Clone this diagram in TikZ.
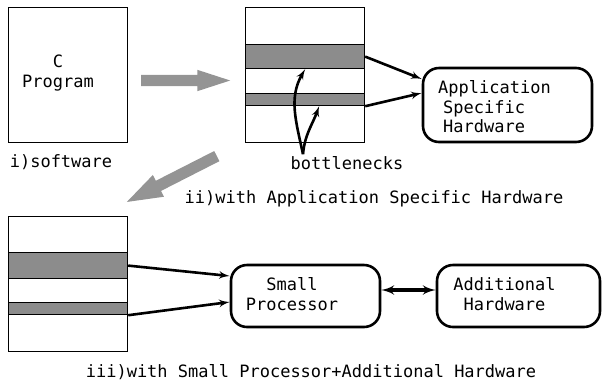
\documentclass[tikz,border=0pt]{standalone}
\usepackage{fontspec}
\setmonofont{DejaVu Sans Mono}
\usetikzlibrary{arrows,shapes.arrows}

\begin{document}
\begin{tikzpicture}[x=1pt,y=-1pt,>=latex',
  every node/.style={font=\ttfamily\fontsize{17}{19.5}\selectfont,inner sep=0pt},
  code box/.style={draw,line width=1.2pt,minimum width=119pt,anchor=north west},
  hot spot/.style={code box,fill=black!45},
  hw box/.style={draw,rounded corners=16pt,line width=2.6pt},
  flow/.style={->,line width=2.6pt},
  big arrow/.style={single arrow,anchor=tail,fill=black!42,text height=5.5pt,text depth=5.5pt,minimum width=21pt,single arrow head extend=5pt,single arrow tip angle=36}]

  \useasboundingbox (0,0) rectangle (602,384);

  % i) software only
  \node[code box,minimum height=135pt] (prog) at (8,7) {};
  \node[align=center] (progt) at (58,73) {C\\Program};
  \node (cap1) at (61,162) {i)software};

  \node[big arrow,minimum height=89pt] (synth) at (141,80.5) {};

  % ii) with application specific hardware
  \node[code box,minimum height=135pt] (asic prog) at (245,7) {};
  \node[hot spot,minimum height=24pt] (hot1) at (245,44) {};
  \node[hot spot,minimum height=12pt] (hot2) at (245,93) {};
  \node[hw box,minimum width=169pt,minimum height=74pt] (ash) at (507.5,105) {};
  \node[align=left,anchor=west] (asht) at (438,107) {Application\\\hspace{5pt}Specific\\\hspace{5pt}Hardware};
  \node (bn) at (347,163) {bottlenecks};
  \node (cap2) at (374,199) {ii)with Application Specific Hardware};

  \node[big arrow,minimum height=101pt,minimum width=24pt,single arrow head extend=6.5pt,single arrow tip angle=38,rotate=207] (refine) at (217,156) {};

  % iii) with small processor + additional hardware
  \node[code box,minimum height=135pt] (mp prog) at (8,216) {};
  \node[hot spot,minimum height=26pt] (hot3) at (8,252) {};
  \node[hot spot,minimum height=12pt] (hot4) at (8,302) {};
  \node[hw box,minimum width=149pt,minimum height=62pt] (sp) at (305.5,296) {};
  \node[align=center] (spt) at (292,294) {Small\\Processor};
  \node[hw box,minimum width=163pt,minimum height=62pt] (ah) at (518.5,296) {};
  \node[align=center] (aht) at (504.5,294) {Additional\\Hardware};
  \node (cap3) at (311,372) {iii)with Small Processor+Additional Hardware};

  \path[flow]
    (hot1.east) edge ([yshift=26pt]ash.west)
    (hot2.south east) edge ([yshift=12pt]ash.west)
    (hot3.east) edge ([yshift=20pt]sp.west)
    (hot4.south east) edge ([yshift=-6pt]sp.west);
  \draw[flow,<->,line width=3.4pt] ([yshift=6pt]sp.east) -- ([yshift=6pt]ah.west);

  \draw[flow] ([xshift=-44pt,yshift=2pt]bn.north) to[out=102,in=240] (hot1.south);
  \draw[flow] ([xshift=-44pt,yshift=2pt]bn.north) to[out=85,in=250] ([xshift=14pt]hot2.south);
\end{tikzpicture}
\end{document}
